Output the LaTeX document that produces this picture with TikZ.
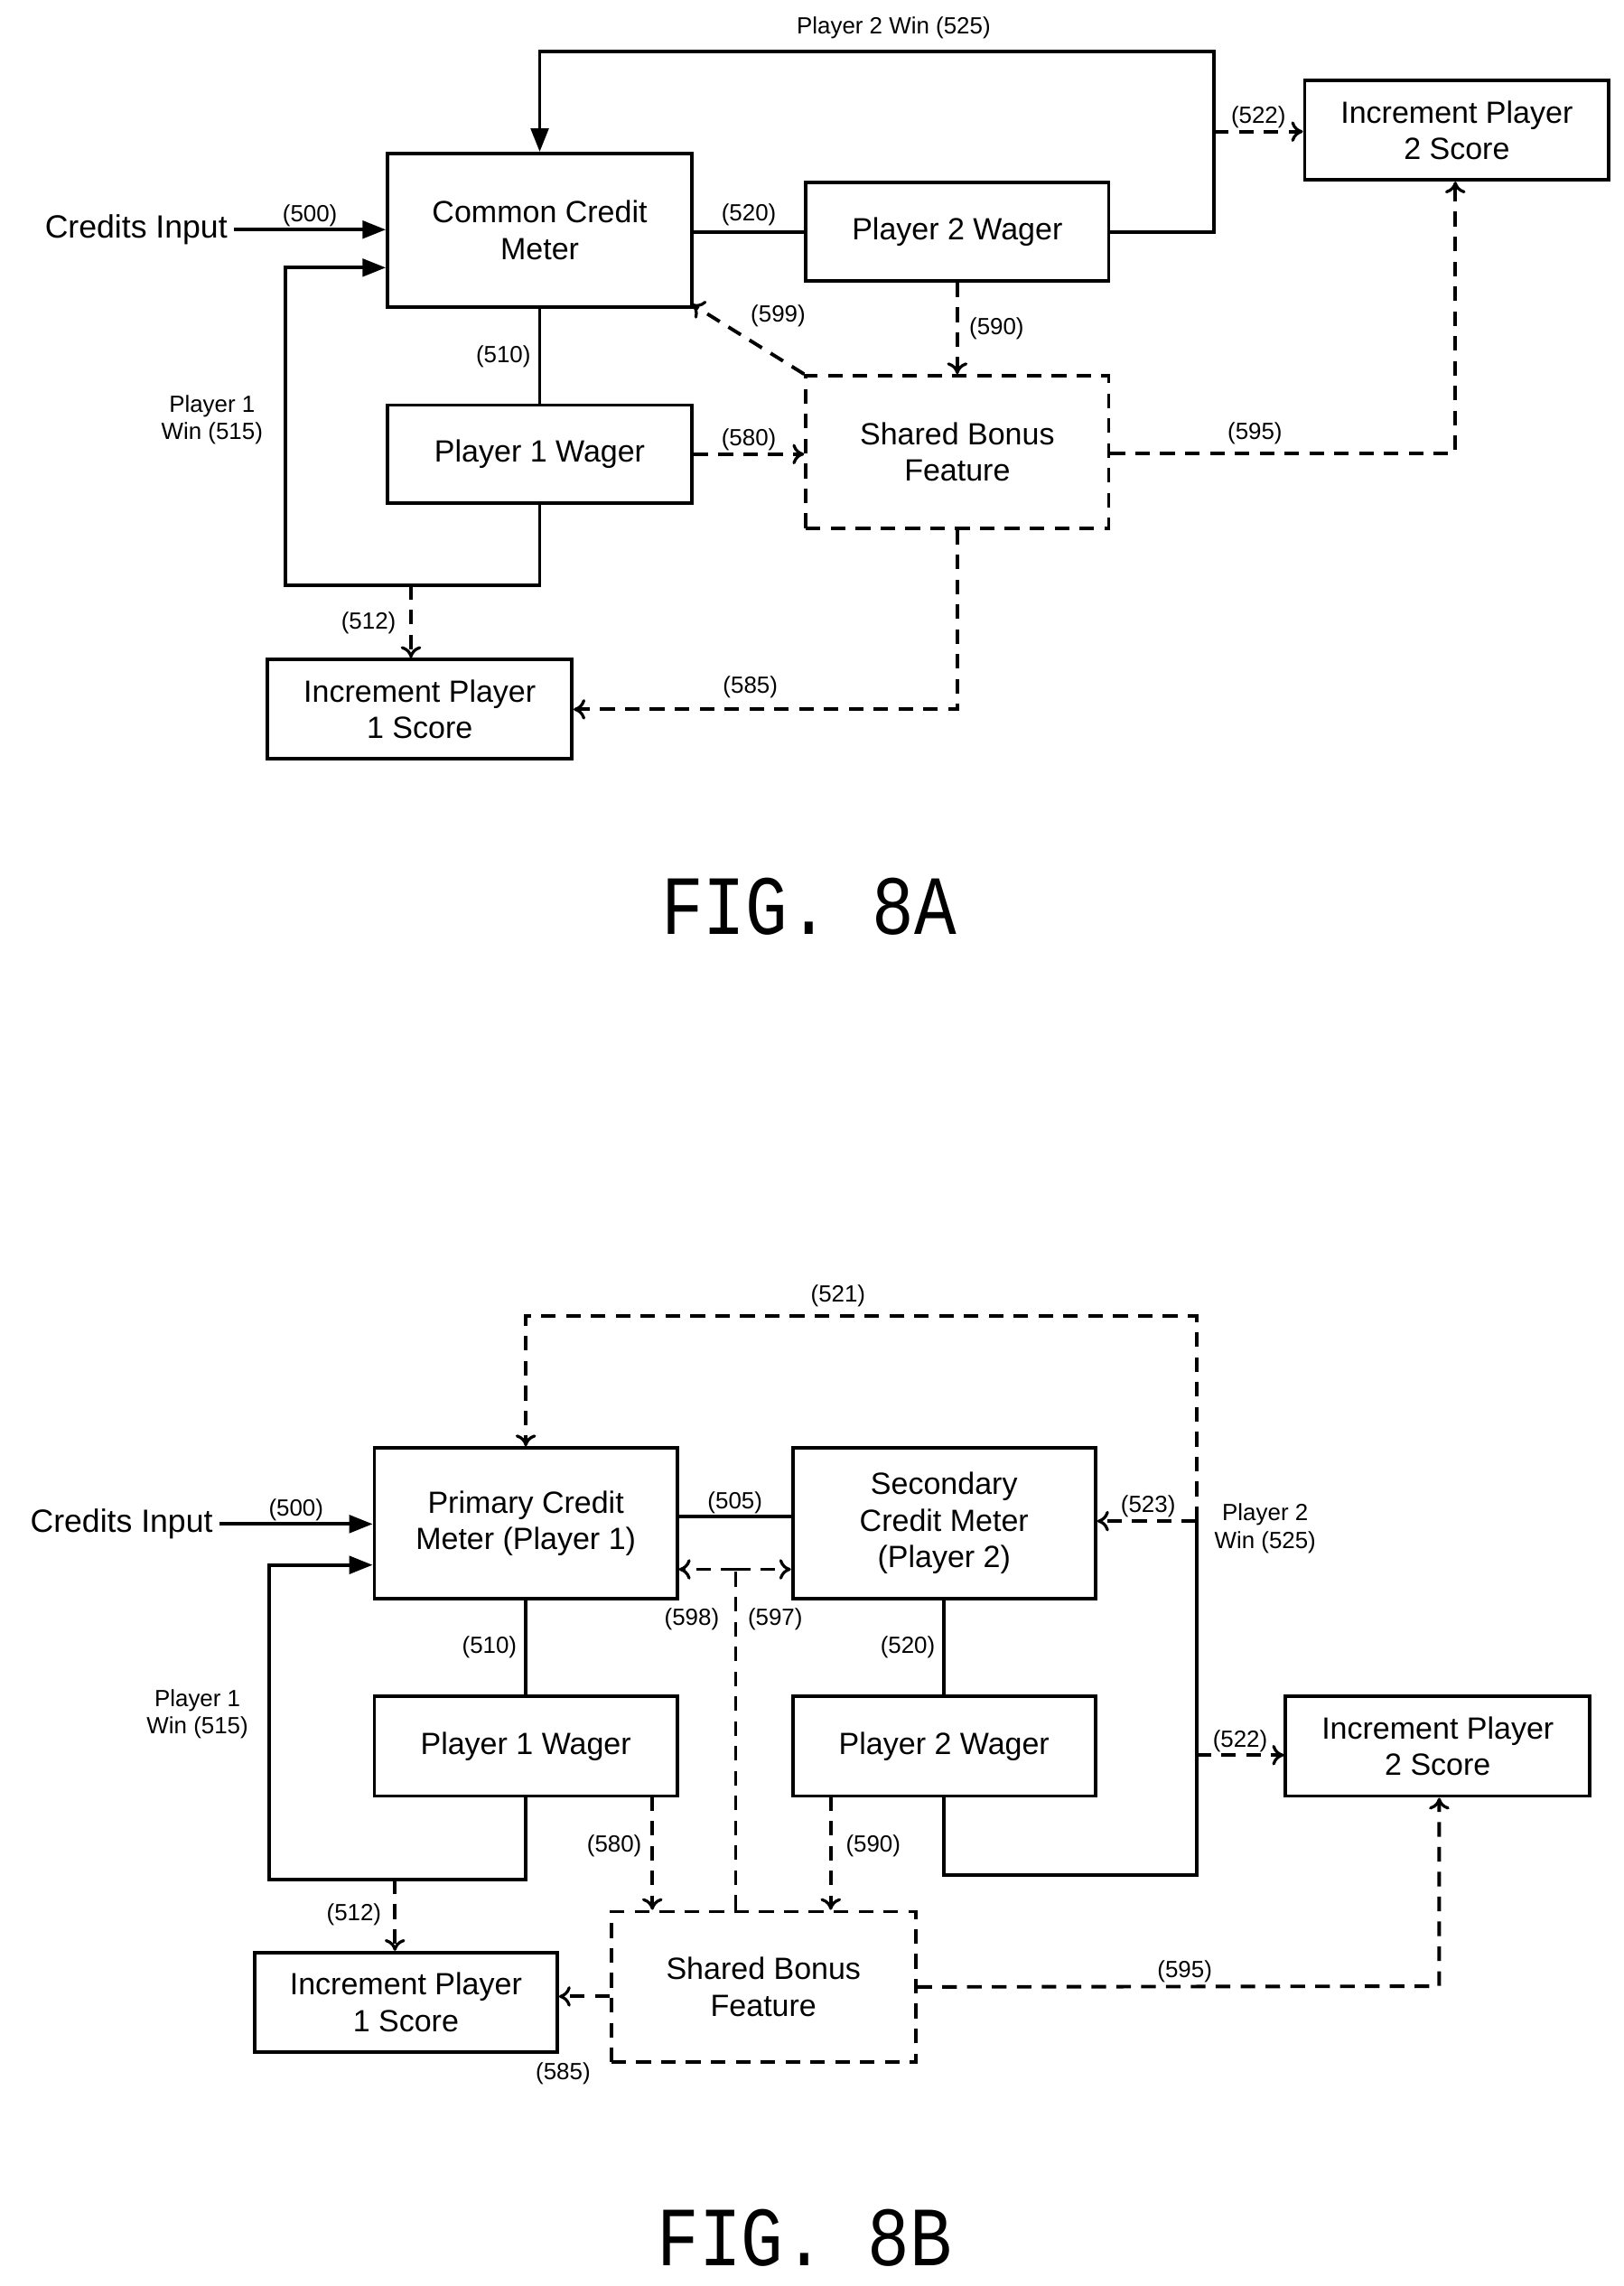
\documentclass[tikz,border=0pt]{standalone}
\usepackage{fontspec}
\setmainfont{Liberation Sans}
\newfontfamily\figfont{Liberation Mono}
\usetikzlibrary{arrows.meta}
\begin{document}
\begin{tikzpicture}[x=1pt,y=-1pt,line width=2.4pt,
 box/.style={draw,rectangle,inner sep=0pt,font=\fontsize{21}{25}\selectfont,align=center},
 dbox/.style={box,dash pattern=on 10pt off 7pt},
 lbl/.style={font=\fontsize{16}{19}\selectfont,align=center,inner sep=1pt},
 dsh/.style={dash pattern=on 10pt off 7pt},
 sa/.style={-{Triangle[length=16pt,width=12pt]}},
 da/.style={dsh,-{To[length=8pt,width=14pt,line width=2pt]}},
 fig/.style={font=\figfont\fontsize{48}{50}\selectfont}]
\useasboundingbox (0,0) rectangle (1110,1563);
% ---------- FIG 8A ----------
\node[box,minimum width=208pt,minimum height=105pt] (ccm) at (369,157.5) {Common Credit\\Meter};
\node[box,minimum width=207pt,minimum height=67pt] (p2w) at (654.5,158.5) {Player 2 Wager};
\node[box,minimum width=208pt,minimum height=68pt] (ip2) at (996,89) {Increment Player\\2 Score};
\node[dbox,minimum width=207pt,minimum height=104pt] (sbf) at (654.5,309) {Shared Bonus\\Feature};
\node[box,minimum width=208pt,minimum height=67pt] (p1w) at (369,310.5) {Player 1 Wager};
\node[box,minimum width=208pt,minimum height=68pt] (ip1) at (287,485) {Increment Player\\1 Score};
\node[font=\fontsize{22}{26}\selectfont,anchor=east] (ci) at (160,157) {Credits Input};
\draw[sa] (ci.east) -- (ccm.west |- ci.east) node[lbl,midway,above] {(500)};
\draw (ccm.east |- p2w.west) -- (p2w.west) node[lbl,midway,above=2pt] {(520)};
\coordinate (a1) at (830,35);
\draw[sa] (p2w.east) -| (a1) -| (ccm.north);
\node[lbl] at (611,19) {Player 2 Win (525)};
\draw[da] (830,90) -- (ip2.west |- 830,90) node[lbl,midway,above] {(522)};
\draw (ccm.south) -- (p1w.north) node[lbl,midway,left=4pt] {(510)};
\coordinate (b1) at (195,400);
\draw[sa] (p1w.south) |- (b1) |- (ccm.west |- 0,183);
\node[lbl] at (145,287) {Player 1\\Win (515)};
\draw[da] (281,400) -- (ip1.north -| 281,0);
\node[lbl] at (252,426) {(512)};
\draw[da] (p1w.east) -- (sbf.west |- p1w.east) node[lbl,midway,above] {(580)};
\draw[da] (p2w.south) -- (sbf.north) node[lbl,midway,right=6pt] {(590)};
\draw[da] (sbf.north west) -- (473,208);
\node[lbl] at (532,216) {(599)};
\coordinate (c1) at (995,310);
\draw[da] (sbf.east |- c1) -- (c1) -- (ip2.south -| c1);
\node[lbl] at (858,296) {(595)};
\draw[da] (sbf.south) |- (ip1.east |- 0,485);
\node[lbl] at (513,470) {(585)};
\node[fig] (f8a) at (553,620) {\scalebox{1}[1.2]{FIG. 8A}};
% ---------- FIG 8B ----------
\node[box,minimum width=207pt,minimum height=103pt] (pcm) at (359.5,1041.5) {Primary Credit\\Meter (Player 1)};
\node[box,minimum width=207pt,minimum height=103pt] (scm) at (645.5,1041.5) {Secondary\\Credit Meter\\(Player 2)};
\node[box,minimum width=207pt,minimum height=68pt] (q1w) at (359.5,1194) {Player 1 Wager};
\node[box,minimum width=207pt,minimum height=68pt] (q2w) at (645.5,1194) {Player 2 Wager};
\node[box,minimum width=208pt,minimum height=68pt] (iq2) at (983,1194) {Increment Player\\2 Score};
\node[dbox,minimum width=208pt,minimum height=103pt] (sbg) at (522,1358.5) {Shared Bonus\\Feature};
\node[box,minimum width=207pt,minimum height=68pt] (iq1) at (277.5,1369) {Increment Player\\1 Score};
\node[font=\fontsize{22}{26}\selectfont,anchor=east] (ci2) at (150,1042) {Credits Input};
\draw[sa] (ci2.east) -- (pcm.west |- ci2.east) node[lbl,midway,above] {(500)};
\draw (pcm.east |- 0,1037) -- (scm.west |- 0,1037) node[lbl,midway,above] {(505)};
\coordinate (d0) at (503,1073);
\draw[dsh] (sbg.north -| d0) -- (d0);
\draw[da] (d0) -- (pcm.east |- d0);
\draw[da] (d0) -- (scm.west |- d0);
\node[lbl] at (473,1107) {(598)};
\node[lbl] at (530,1107) {(597)};
\draw (pcm.south) -- (q1w.north) node[lbl,midway,left=4pt] {(510)};
\draw (scm.south) -- (q2w.north) node[lbl,midway,left=4pt] {(520)};
\coordinate (e1) at (184,1285);
\draw[sa] (q1w.south) |- (e1) |- (pcm.west |- 0,1070);
\node[lbl] at (135,1172) {Player 1\\Win (515)};
\draw[da] (270,1285) -- (iq1.north -| 270,0);
\node[lbl] at (242,1309) {(512)};
\draw[da] (446,1228) -- (sbg.north -| 446,0);
\node[lbl] at (420,1262) {(580)};
\draw[da] (568,1228) -- (sbg.north -| 568,0);
\node[lbl] at (597,1262) {(590)};
\coordinate (g1) at (984,1358);
\draw[da] (sbg.east) -- (g1) -- (iq2.south -| g1);
\node[lbl] at (810,1348) {(595)};
\draw[da] (sbg.west |- 0,1365) -- (iq1.east |- 0,1365);
\node[lbl] at (385,1418) {(585)};
\coordinate (h1) at (818,1282);
\coordinate (h2) at (818,1040);
\coordinate (h3) at (818,900);
\draw (q2w.south) |- (h1) -- (h2);
\draw[da] (h2) -- (h3) -| (pcm.north);
\node[lbl] at (573,886) {(521)};
\draw[da] (h2) -- (scm.east |- h2);
\node[lbl] at (785,1030) {(523)};
\node[lbl] at (865,1045) {Player 2\\Win (525)};
\draw[da] (818,1200) -- (iq2.west |- 0,1200) node[lbl,midway,above] {(522)};
\node[fig] (f8b) at (550,1530) {\scalebox{1}[1.2]{FIG. 8B}};
\end{tikzpicture}
\end{document}
